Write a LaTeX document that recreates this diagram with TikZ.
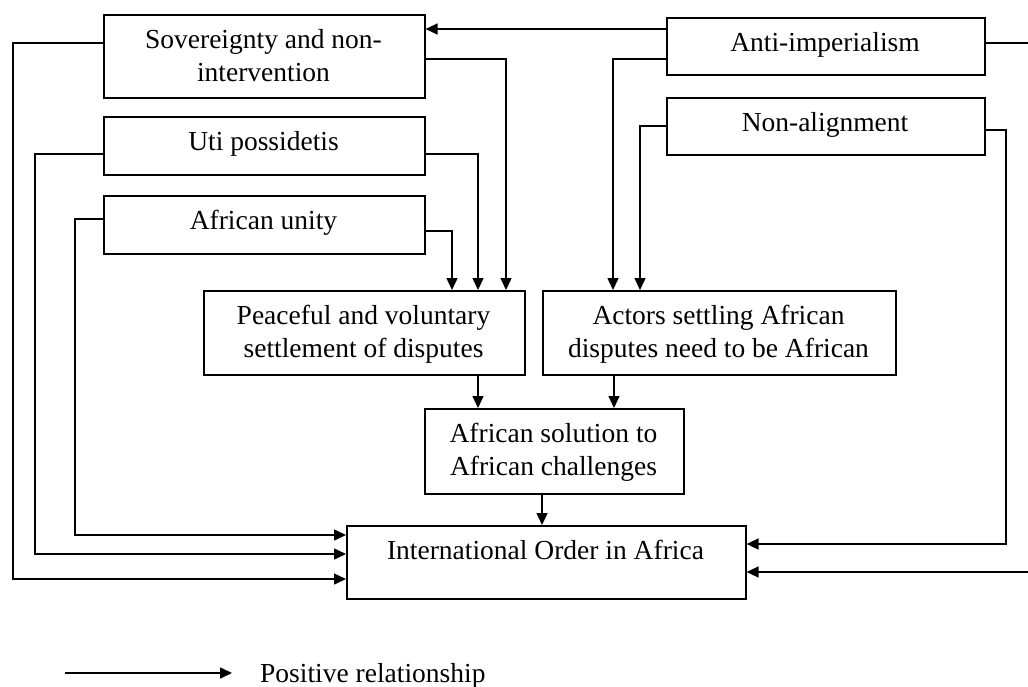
\documentclass[tikz,border=0pt]{standalone}
\usepackage{fontspec}
\setmainfont{Liberation Serif}
\usetikzlibrary{arrows.meta}
\begin{document}
\begin{tikzpicture}[x=1pt,y=-1pt,
  box/.style={draw, line width=1.6pt, rectangle, inner sep=0pt, anchor=north west},
  txt/.style={inner sep=0pt, anchor=base, font=\fontsize{27.5}{33}\selectfont},
  arr/.style={line width=1.5pt, -{Triangle[length=12pt,width=11pt]}}]
\useasboundingbox (0,0) rectangle (1028,686);
\clip (0,0) rectangle (1028,686);
% boxes
\node[box, minimum width=321pt, minimum height=83pt] (sov) at (103,14) {};
\node[box, minimum width=321pt, minimum height=58pt] (uti) at (103,116) {};
\node[box, minimum width=321pt, minimum height=58pt] (uni) at (103,195) {};
\node[box, minimum width=318pt, minimum height=57pt] (anti) at (666,17) {};
\node[box, minimum width=318pt, minimum height=57pt] (non) at (666,97) {};
\node[box, minimum width=321pt, minimum height=84pt] (peace) at (203,290) {};
\node[box, minimum width=353pt, minimum height=84pt] (actors) at (542,290) {};
\node[box, minimum width=259pt, minimum height=85pt] (sol) at (424,408) {};
\node[box, minimum width=399pt, minimum height=73pt] (io) at (346,525) {};
% texts
\node[txt] (sovt1) at (263.5,48.5) {Sovereignty and non-};
\node[txt] (sovt2) at (263.5,81.5) {intervention};
\node[txt] (utit) at (263.5,150.5) {Uti possidetis};
\node[txt] (unit) at (263.5,229.5) {African unity};
\node[txt] (antit) at (825,51.5) {Anti-imperialism};
\node[txt] (nont) at (825,131.5) {Non-alignment};
\node[txt] (peacet1) at (363.5,324.5) {Peaceful and voluntary};
\node[txt] (peacet2) at (363.5,357.5) {settlement of disputes};
\node[txt] (actorst1) at (718.5,324.5) {Actors settling African};
\node[txt] (actorst2) at (718.5,357.5) {disputes need to be African};
\node[txt] (solt1) at (553.5,442.5) {African solution to};
\node[txt] (solt2) at (553.5,475.5) {African challenges};
\node[txt] (iot) at (545.5,559.5) {International Order in Africa};
% connectors
\draw[arr] (sov.west |- 0,43) -| (13,579) -- (io.west |- 0,579);
\draw[arr] (uti.west |- 0,154) -| (35,554) -- (io.west |- 0,554);
\draw[arr] (uni.west |- 0,219) -| (75,535) -- (io.west |- 0,535);
\draw[arr] (sov.east |- 0,59) -| (peace.north -| 506,0);
\draw[arr] (uti.east |- 0,154) -| (peace.north -| 478,0);
\draw[arr] (uni.east |- 0,231) -| (peace.north -| 452,0);
\draw[arr] (anti.west |- 0,29) -- (sov.east |- 0,29);
\draw[arr] (anti.west |- 0,59) -| (actors.north -| 613,0);
\draw[arr] (non.west |- 0,126) -| (actors.north -| 640,0);
\draw[arr] (anti.east |- 0,43) -| (1040,572) -- (io.east |- 0,572);
\draw[arr] (non.east |- 0,130) -| (1006,544) -- (io.east |- 0,544);
\draw[arr] (peace.south -| 478,0) -- (sol.north -| 478,0);
\draw[arr] (actors.south -| 614,0) -- (sol.north -| 614,0);
\draw[arr] (sol.south -| 542,0) -- (io.north -| 542,0);
% legend
\coordinate (l1) at (65,673);
\coordinate (l2) at (232,673);
\draw[arr] (l1) -- (l2);
\node[txt, anchor=base west] (legt) at (260,682) {Positive relationship};
\end{tikzpicture}
\end{document}
